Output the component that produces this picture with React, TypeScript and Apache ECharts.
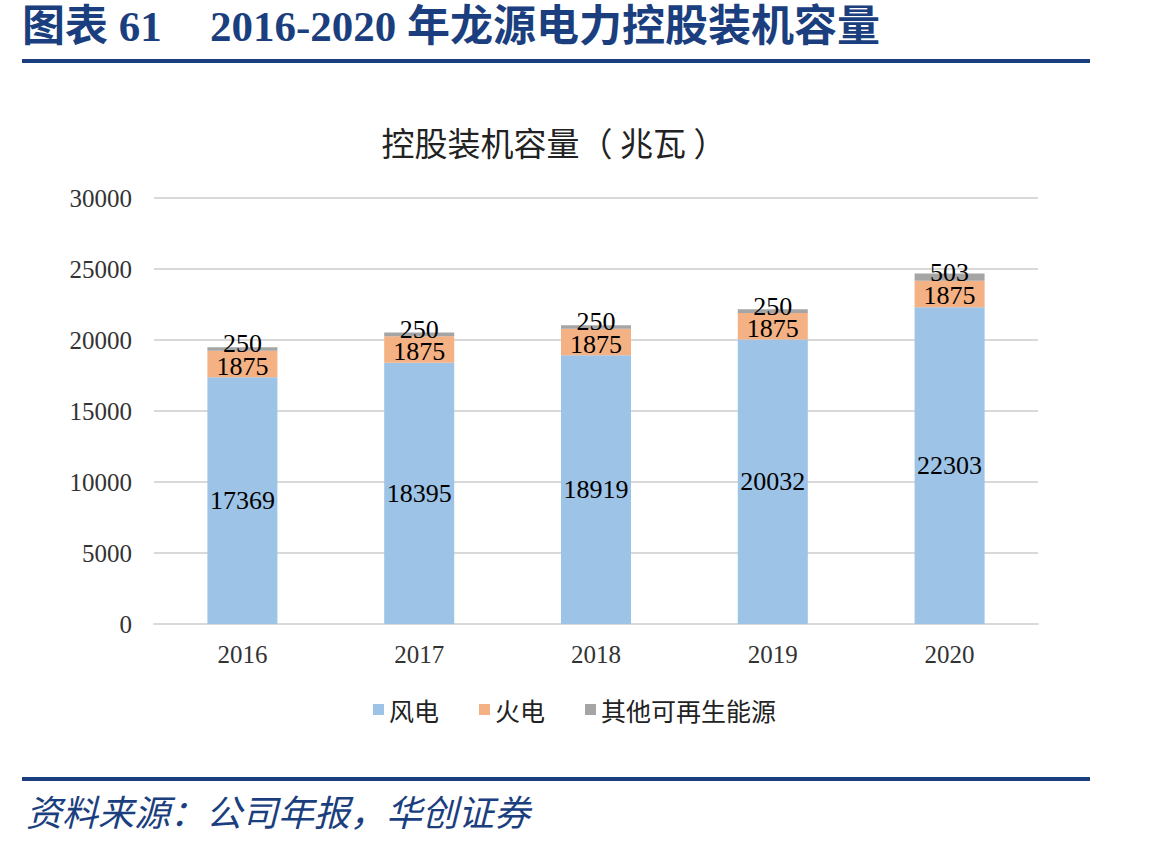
import React, { useEffect, useRef } from "react";
import * as echarts from "echarts";

const years = ["2016", "2017", "2018", "2019", "2020"];
const wind = [17369, 18395, 18919, 20032, 22303];
const thermal = [1875, 1875, 1875, 1875, 1875];
const other = [250, 250, 250, 250, 503];
const seriesNames = ["风电", "火电", "其他可再生能源"];

const SERIF = "'Liberation Serif', 'Noto Sans CJK SC', serif";
const CJK = "'Noto Sans CJK SC', sans-serif";

export default function App() {
  const ref = useRef<HTMLDivElement>(null);
  useEffect(() => {
    if (!ref.current) return;
    const chart = echarts.init(ref.current, null, { renderer: "svg" });
    const label = (pos: any, extra: any = {}) => ({
      show: true,
      position: pos,
      color: "#000",
      fontFamily: SERIF,
      fontSize: 26,
      ...extra,
    });
    chart.setOption({
      animation: false,
      backgroundColor: "#fff",
      title: {
        text: "控股装机容量（ 兆瓦 ）",
        left: 549,
        textAlign: "center",
        top: 120,
        textStyle: { fontFamily: CJK, fontSize: 33, fontWeight: "normal", color: "#222" },
      },
      legend: {
        data: seriesNames,
        left: "center",
        top: 692,
        itemWidth: 11,
        itemHeight: 11,
        itemGap: 40,
        icon: "rect",
        textStyle: { fontFamily: CJK, fontSize: 25, color: "#222" },
      },
      grid: { left: 154, right: 111, top: 198, bottom: 224 },
      xAxis: {
        type: "category",
        data: years,
        axisLine: { lineStyle: { color: "#d9d9d9", width: 2 } },
        axisTick: { show: false },
        axisLabel: { fontFamily: SERIF, fontSize: 25, color: "#333", margin: 18 },
      },
      yAxis: {
        type: "value",
        min: 0,
        max: 30000,
        interval: 5000,
        axisLine: { show: false },
        axisTick: { show: false },
        splitLine: { lineStyle: { color: "#d9d9d9", width: 2 } },
        axisLabel: {
          fontFamily: SERIF,
          fontSize: 25,
          color: "#333",
          margin: 22,
          formatter: (v: number) => String(v),
        },
      },
      series: [
        {
          name: seriesNames[0],
          type: "bar",
          stack: "a",
          data: wind,
          barWidth: 70,
          itemStyle: { color: "#9dc3e6" },
          label: label("inside"),
        },
        {
          name: seriesNames[1],
          type: "bar",
          stack: "a",
          data: thermal,
          itemStyle: { color: "#f4b183" },
          label: label("inside", { offset: [0, 2] }),
        },
        {
          name: seriesNames[2],
          type: "bar",
          stack: "a",
          data: other,
          itemStyle: { color: "#a5a5a5" },
          label: label("inside", { offset: [0, -5] }),
        },
      ],
      graphic: [
        {
          type: "text",
          left: 22,
          top: 5,
          style: {
            text: "图表 61",
            font: "bold 43px 'Liberation Serif', 'Noto Sans CJK SC', serif",
            fill: "#1b3f7e",
          },
        },
        {
          type: "text",
          left: 210,
          top: 5,
          style: {
            text: "2016-2020 年龙源电力控股装机容量",
            font: "bold 43px 'Liberation Serif', 'Noto Sans CJK SC', serif",
            fill: "#1b3f7e",
          },
        },
        {
          type: "rect",
          shape: { x: 22, y: 59, width: 1068, height: 4 },
          style: { fill: "#1b3f7e" },
        },
        {
          type: "rect",
          shape: { x: 22, y: 777, width: 1068, height: 4 },
          style: { fill: "#1b3f7e" },
        },
        {
          type: "text",
          left: 26,
          top: 792,
          style: {
            text: "资料来源：公司年报，华创证券",
            font: "italic 36px 'Noto Sans CJK SC', sans-serif",
            fill: "#1b3f7e",
          },
        },
      ],
    });
    return () => chart.dispose();
  }, []);
  return (
    <div
      ref={ref}
      style={{ position: "fixed", left: 0, top: 0, width: 1149, height: 848 }}
    />
  );
}
